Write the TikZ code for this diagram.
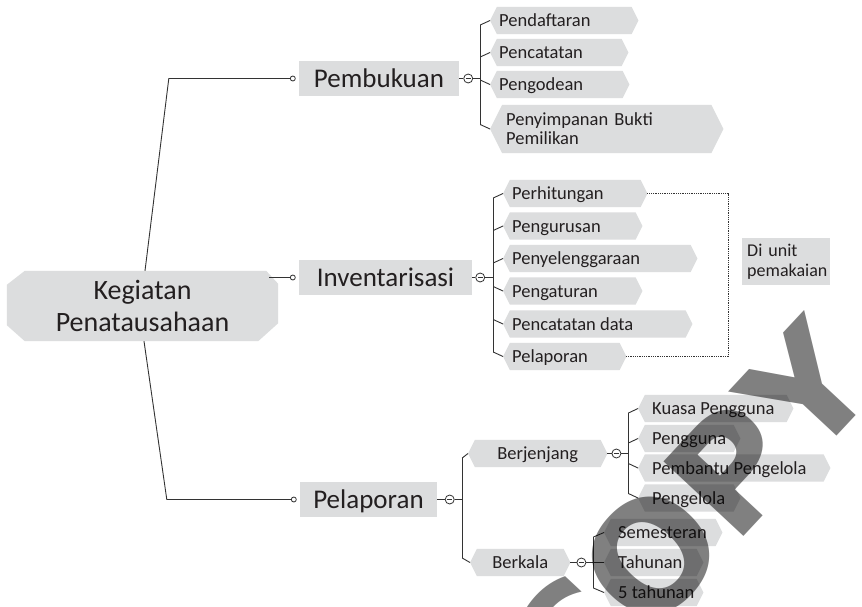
\documentclass[tikz,border=0pt]{standalone}
\usepackage{fontspec}
\setmainfont{Carlito}
\newfontfamily\wmfont{DejaVu Sans}
\usetikzlibrary{calc,backgrounds}
\definecolor{boxfill}{HTML}{DCDDDE}
\definecolor{linec}{HTML}{333333}
\definecolor{txt}{HTML}{231F20}
\definecolor{wmgray}{HTML}{808080}
\newcommand\leaffont{\fontsize{18.5}{20}\selectfont}
\tikzset{hxalign/.store in=\hxal, hxalign=l}
% hexagonal (double-pointed) background of a leaf node
\newcommand\hexfill[1]{%
  \fill[boxfill] let \p1=(#1.north west), \p2=(#1.south east), \n1={0.25*(\y1-\y2)} in
    (#1.west) -- ({\x1+\n1},\y1) -- ({\x2-\n1},\y1) -- (#1.east)
    -- ({\x2-\n1},\y2) -- ({\x1+\n1},\y2) -- cycle;}
% [options]{name}{x of left point}{y}{total width}{left padding}{text}
\newcommand\hexnode[7][]{%
  \pgfmathsetmacro\hxw{#5-2*#6}%
  \node[hexbox, inner xsep=#6pt, #1] (#2) at (#3,#4) {\makebox[\hxw pt][\hxal]{#7}};
  \begin{scope}[on background layer]\hexfill{#2}\end{scope}}
% short slanted link from a vertical bar to a child
\newcommand\linktick[3]{\draw[conn] ($(#1 |- #2.west)+(0,#3)$) -- (#2.west);}
\newcommand\vbar[4]{\draw[conn] ($(#1 |- #2.west)+(0,#3)$) -- ($(#1 |- #4.west)+(0,-#3)$);}
\begin{document}
\begin{tikzpicture}[x=1pt, y=-1pt,
  conn/.style={draw=linec, line width=0.9pt},
  dots/.style={draw=linec, line width=0.7pt, dash pattern=on 0.9pt off 0.9pt},
  hexbox/.style={rectangle, anchor=west, inner ysep=0pt, minimum height=27pt,
    font=\leaffont, text=txt, text height=12pt, text depth=0pt},
  topic/.style={rectangle, fill=boxfill, inner sep=0pt, minimum height=35pt,
    font=\fontsize{27}{30}\selectfont, text=txt, text height=17pt, text depth=0pt},
  collapse/.style={circle, draw=linec, line width=0.8pt, fill=white, minimum size=9pt,
    inner sep=0pt, path picture={\draw[linec, line width=0.9pt]
      ([xshift=-2.6pt]path picture bounding box.center) --
      ([xshift=2.6pt]path picture bounding box.center);}},
  opencirc/.style={circle, draw=linec, line width=0.8pt, fill=white,
    minimum size=5pt, inner sep=0pt},
]
\useasboundingbox (0,0) rectangle (862,606);
\begin{scope}[on background layer]
  \fill[white] (0,0) rectangle (862,606);
\end{scope}

% central topic
\node[rectangle, minimum width=271pt, minimum height=70pt, align=center,
  font=\fontsize{28}{32}\selectfont, text=txt, inner sep=0pt] (root) at (142.5,306)
  {Kegiatan\\Penatausahaan};
\begin{scope}[on background layer]
  \fill[boxfill] ([yshift=-14pt]root.north west) -- ([xshift=18pt]root.north west)
    -- ([xshift=-12pt]root.north east) -- ([yshift=-13pt]root.north east)
    -- ([yshift=18pt]root.south east) -- ([xshift=-20pt]root.south east)
    -- ([xshift=18pt]root.south west) -- ([yshift=16pt]root.south west) -- cycle;
\end{scope}

% main topics
\node[topic, minimum width=160pt] (pemb) at (379,78.5) {Pembukuan};
\node[topic, minimum width=173pt] (inv) at (385.5,277.5) {Inventarisasi};
\node[topic, minimum width=137pt] (pel) at (368.5,499.5) {Pelaporan};

\node[opencirc] (opemb) at ([xshift=-6pt]pemb.west) {};
\node[opencirc] (oinv) at ([xshift=-6pt]inv.west) {};
\node[opencirc] (opel) at ([xshift=-6pt]pel.west) {};
\draw[conn] ($(root.north)+(2.5,0)$) -- ([xshift=-130pt]pemb.west) -- (opemb);
\draw[conn] ($(root.east |- inv.west)+(-9,0)$) -- (oinv);
\draw[conn] ($(root.south)+(1.5,0)$) -- ([xshift=-133pt]pel.west) -- (opel);

% Pembukuan branch
\node[collapse] (cpemb) at ([xshift=9pt]pemb.east) {};
\coordinate (bpemb) at ([xshift=21pt]pemb.east);
\draw[conn] (pemb.east) -- (cpemb) -- (bpemb);
\hexnode{pend}{490}{20.5}{148}{9}{Pendaftaran}
\hexnode{penc}{490}{52.5}{138}{9}{Pencatatan}
\hexnode{pengo}{490}{84.5}{139}{9}{Pengodean}
\node[hexbox, minimum height=48pt, inner xsep=16pt, text width=201pt, align=left,
  text height=11.9pt, text depth=19.7pt, font=\fontsize{18.5}{19.7}\selectfont]
  (peny) at (490,129) {Penyimpanan Bukti\\Pemilikan};
\begin{scope}[on background layer]\hexfill{peny}\end{scope}
\vbar{bpemb}{pend}{4.5}{peny}
\linktick{bpemb}{pend}{4.5}
\linktick{bpemb}{penc}{4.5}
\linktick{bpemb}{pengo}{-4.5}
\linktick{bpemb}{peny}{-4.5}

% Inventarisasi branch
\node[collapse] (cinv) at ([xshift=8pt]inv.east) {};
\coordinate (binv) at ([xshift=21pt]inv.east);
\draw[conn] (inv.east) -- (cinv) -- (binv);
\hexnode{perh}{503}{193.5}{144}{9}{Perhitungan}
\hexnode{pengu}{503}{226}{139}{9}{Pengurusan}
\hexnode{penye}{503}{258.5}{194}{9}{Penyelenggaraan}
\hexnode{penga}{503}{291}{139}{9}{Pengaturan}
\hexnode{pdata}{503}{324}{189}{9}{Pencatatan data}
\hexnode{plap}{503}{356.5}{123}{9}{Pelaporan}
\vbar{binv}{perh}{4.5}{plap}
\linktick{binv}{perh}{4.5}
\linktick{binv}{pengu}{4.5}
\linktick{binv}{penye}{4.5}
\linktick{binv}{penga}{-4.5}
\linktick{binv}{pdata}{-4.5}
\linktick{binv}{plap}{-4.5}
\draw[dots] (perh.east) -- ++(81,0) |- (plap.east);
\node[rectangle, fill=boxfill, anchor=north west, inner xsep=5pt, inner ysep=0pt,
  text width=78pt, minimum height=47pt, align=left, text=txt,
  font=\fontsize{18}{20}\selectfont] (diunit) at (742,238) {Di unit\\pemakaian};

% Pelaporan branch
\node[collapse] (cpel) at ([xshift=12.5pt]pel.east) {};
\coordinate (bpel) at ([xshift=25pt]pel.east);
\draw[conn] (pel.east) -- (cpel) -- (bpel);
\hexnode[hxalign=c]{berj}{468}{453.5}{139}{12}{Berjenjang}
\hexnode[hxalign=c]{berk}{470}{562.5}{100}{12}{Berkala}
\vbar{bpel}{berj}{4.5}{berk}
\linktick{bpel}{berj}{4.5}
\linktick{bpel}{berk}{-4.5}

\node[collapse] (cberj) at ([xshift=9pt]berj.east) {};
\coordinate (bberj) at ([xshift=21pt]berj.east);
\draw[conn] (berj.east) -- (cberj) -- (bberj);
\hexnode{kuasa}{638}{408.5}{155}{14}{Kuasa Pengguna}
\hexnode{pengg}{638}{438.5}{102}{14}{Pengguna}
\hexnode{pembt}{638}{468}{192}{14}{Pembantu Pengelola}
\hexnode{pglola}{638}{498}{102}{14}{Pengelola}
\vbar{bberj}{kuasa}{4.5}{pglola}
\linktick{bberj}{kuasa}{4.5}
\linktick{bberj}{pengg}{4.5}
\linktick{bberj}{pembt}{-4.5}
\linktick{bberj}{pglola}{-4.5}

\node[collapse] (cberk) at ([xshift=11pt]berk.east) {};
\coordinate (bberk) at ([xshift=23pt]berk.east);
\draw[conn] (berk.east) -- (cberk) -- (bberk);
\hexnode{sems}{604}{532.5}{118}{14}{Semesteran}
\hexnode{tahun}{604}{562.5}{99}{14}{Tahunan}
\hexnode{lima}{604}{592.5}{99}{14}{5 tahunan}
\vbar{bberk}{sems}{4.5}{lima}
\linktick{bberk}{sems}{4.5}
\linktick{bberk}{tahun}{0}
\linktick{bberk}{lima}{-4.5}

% watermark
\begin{scope}[blend mode=multiply]
  \node[rotate=47, text=wmgray, inner sep=0pt,
    font=\wmfont\bfseries\fontsize{150}{150}\selectfont] (wm) at (688,516) {COPY};
\end{scope}
\end{tikzpicture}
\end{document}
